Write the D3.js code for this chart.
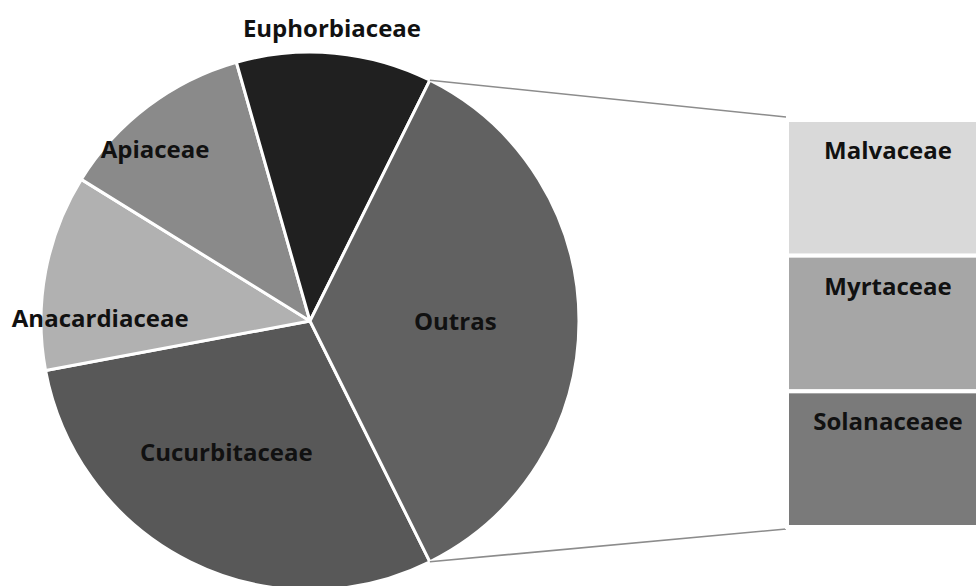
<!DOCTYPE html>
<html>
<head>
<meta charset="utf-8">
<script src="https://cdn.jsdelivr.net/npm/d3@7"></script>
<style>
  html, body { margin: 0; padding: 0; background: #ffffff; }
  svg { display: block; }
  text { font-family: "Open Sans", sans-serif; font-weight: 700; fill: #111; }
</style>
</head>
<body>
<svg id="chart" width="976" height="586"></svg>
<script>
// Plant families: main pie (clockwise from the "Outras" wedge)
const pieCategories = ["Cucurbitaceae", "Anacardiaceae", "Apiaceae", "Euphorbiaceae"];
const pieValues = [5, 2, 2, 2];
const otherLabel = "Outras";

// Breakdown of "Outras" shown in the stacked bar
const barCategories = ["Malvaceae", "Myrtaceae", "Solanaceaee"];
const barValues = [2, 2, 2];

// Fills
const pieColors = ["#585858", "#b1b1b1", "#8a8a8a", "#202020", "#616161"];
const barColors = ["#d9d9d9", "#a6a6a6", "#7a7a7a"];

// Label placement: radial factor of the radius and angular shift (deg)
const pieLabelPlace = [
  { k: 0.58, shift: 6 },
  { k: 0.78, shift: -10 },
  { k: 0.86, shift: -5 },
  { k: 1.09, shift: -1 },
  { k: 0.54, shift: 0 }
];

const svg = d3.select("#chart");
const cx = 310, cy = 321, R = 269;
const fontSize = 24;

const otherValue = d3.sum(barValues);
const sliceNames = pieCategories.concat([otherLabel]);
const sliceValues = pieValues.concat([otherValue]);
const total = d3.sum(sliceValues);

// "Outras" wedge is centred on 3 o'clock; the pie ends with it
const otherSpan = otherValue / total * 2 * Math.PI;
const start = Math.PI / 2 + otherSpan / 2;

const pie = d3.pie().sort(null).value(d => d.v)
  .startAngle(start).endAngle(start + 2 * Math.PI);
const arcs = pie(sliceNames.map((n, i) => ({ n, v: sliceValues[i], i })));
const arc = d3.arc().innerRadius(0).outerRadius(R);

const g = svg.append("g").attr("transform", `translate(${cx},${cy})`);

// Stacked bar for the "Outras" breakdown
const barX = 789, barW = 198;
const y = d3.scaleLinear().domain([0, otherValue]).range([120, 527]);
let acc = 0;
const barData = barValues.map((v, i) => {
  const d = { name: barCategories[i], y0: acc, y1: acc + v, i };
  acc += v;
  return d;
});

// Connector lines from the "Outras" wedge edges to the bar
const otherArc = arcs[arcs.length - 1];
const polar = (a, r) => [cx + r * Math.sin(a), cy - r * Math.cos(a)];
const pTop = polar(otherArc.startAngle, R);
const pBot = polar(otherArc.endAngle, R);
svg.append("line")
  .attr("x1", pTop[0]).attr("y1", pTop[1])
  .attr("x2", barX - 3).attr("y2", y(0) - 3)
  .attr("stroke", "#8c8c8c").attr("stroke-width", 1.6);
svg.append("line")
  .attr("x1", pBot[0]).attr("y1", pBot[1])
  .attr("x2", barX - 3).attr("y2", y(otherValue) + 2)
  .attr("stroke", "#8c8c8c").attr("stroke-width", 1.6);

g.selectAll("path.slice")
  .data(arcs)
  .join("path")
  .attr("class", "slice")
  .attr("d", arc)
  .attr("fill", d => pieColors[d.data.i])
  .attr("stroke", "#ffffff")
  .attr("stroke-width", 3)
  .attr("stroke-linejoin", "round");

g.selectAll("text.plabel")
  .data(arcs)
  .join("text")
  .attr("class", "plabel")
  .attr("text-anchor", "middle")
  .attr("dy", "0.36em")
  .attr("font-size", fontSize)
  .attr("transform", d => {
    const p = pieLabelPlace[d.data.i];
    const a = (d.startAngle + d.endAngle) / 2 + p.shift * Math.PI / 180;
    return `translate(${R * p.k * Math.sin(a)},${-R * p.k * Math.cos(a)})`;
  })
  .text(d => d.data.n);

const bars = svg.append("g");
bars.selectAll("rect")
  .data(barData)
  .join("rect")
  .attr("x", barX - 2)
  .attr("width", barW)
  .attr("y", d => y(d.y0))
  .attr("height", d => y(d.y1) - y(d.y0))
  .attr("fill", d => barColors[d.i])
  .attr("stroke", "#ffffff")
  .attr("stroke-width", 4);

bars.selectAll("text")
  .data(barData)
  .join("text")
  .attr("text-anchor", "middle")
  .attr("font-size", fontSize)
  .attr("x", barX + barW / 2)
  .attr("y", d => y(d.y0) + 39)
  .text(d => d.name);
</script>
</body>
</html>
